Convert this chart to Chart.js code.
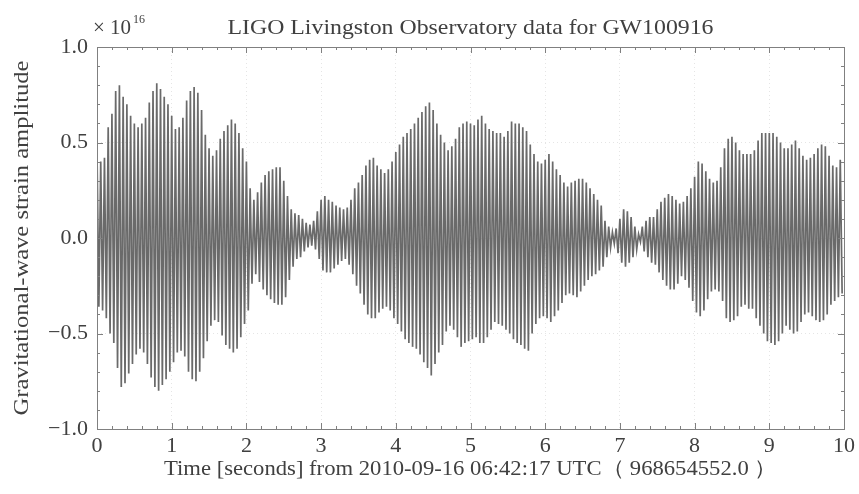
<!DOCTYPE html>
<html>
<head>
<meta charset="utf-8">
<script src="https://cdn.jsdelivr.net/npm/chart.js@4/dist/chart.umd.min.js"></script>
<style>
  html, body { margin: 0; padding: 0; background: #fff; }
  #wrap { width: 859px; height: 494px; }
</style>
</head>
<body>
<div id="wrap"><canvas id="strainChart" width="859" height="494"></canvas></div>
<script>
// peak values (x 1e16), one pair per 0.05 s:
// positive peak at the start of the step, negative peak half a step later
const peakStep = 0.05;
const upperPeaks = [
    0.46, 0.40, 0.42, 0.58, 0.65, 0.77, 0.80, 0.74, 0.70, 0.64, 0.60, 0.58, 0.60, 0.63, 0.71, 0.77, 0.81, 0.78, 0.74, 0.70,
    0.64, 0.57, 0.58, 0.63, 0.72, 0.77, 0.79, 0.76, 0.67, 0.54, 0.47, 0.43, 0.46, 0.52, 0.56, 0.59, 0.62, 0.60, 0.55, 0.47,
    0.40, 0.26, 0.20, 0.24, 0.29, 0.33, 0.35, 0.36, 0.37, 0.37, 0.30, 0.22, 0.15, 0.13, 0.12, 0.10, 0.08, 0.07, 0.09, 0.14,
    0.20, 0.22, 0.20, 0.19, 0.17, 0.16, 0.15, 0.16, 0.20, 0.26, 0.29, 0.33, 0.38, 0.41, 0.42, 0.38, 0.36, 0.34, 0.36, 0.40,
    0.45, 0.49, 0.53, 0.55, 0.57, 0.60, 0.63, 0.66, 0.69, 0.71, 0.67, 0.60, 0.54, 0.50, 0.46, 0.48, 0.52, 0.58, 0.60, 0.61,
    0.60, 0.59, 0.62, 0.64, 0.60, 0.57, 0.56, 0.55, 0.55, 0.53, 0.56, 0.61, 0.60, 0.60, 0.58, 0.56, 0.49, 0.44, 0.40, 0.39,
    0.41, 0.44, 0.40, 0.36, 0.33, 0.29, 0.27, 0.29, 0.30, 0.31, 0.31, 0.29, 0.26, 0.23, 0.20, 0.17, 0.09, 0.06, 0.03, 0.05,
    0.10, 0.15, 0.14, 0.11, 0.06, 0.02, 0.06, 0.09, 0.11, 0.11, 0.15, 0.19, 0.21, 0.23, 0.22, 0.20, 0.18, 0.19, 0.22, 0.26,
    0.32, 0.40, 0.39, 0.35, 0.31, 0.29, 0.30, 0.37, 0.47, 0.52, 0.53, 0.50, 0.46, 0.44, 0.44, 0.44, 0.46, 0.51, 0.55, 0.55,
    0.55, 0.55, 0.53, 0.50, 0.47, 0.47, 0.49, 0.51, 0.47, 0.43, 0.41, 0.42, 0.44, 0.47, 0.49, 0.48, 0.43, 0.38, 0.37, 0.41
];
const lowerPeaks = [
    -0.36, -0.38, -0.42, -0.50, -0.55, -0.68, -0.78, -0.76, -0.71, -0.66, -0.61, -0.58, -0.60, -0.66, -0.73, -0.78, -0.80, -0.77, -0.74, -0.70,
    -0.65, -0.60, -0.59, -0.62, -0.70, -0.74, -0.75, -0.70, -0.63, -0.54, -0.46, -0.43, -0.44, -0.51, -0.56, -0.58, -0.60, -0.58, -0.52, -0.45,
    -0.38, -0.24, -0.19, -0.23, -0.27, -0.30, -0.32, -0.34, -0.35, -0.35, -0.31, -0.22, -0.15, -0.11, -0.10, -0.07, -0.05, -0.04, -0.06, -0.11,
    -0.17, -0.18, -0.18, -0.16, -0.14, -0.12, -0.11, -0.14, -0.19, -0.25, -0.29, -0.35, -0.40, -0.42, -0.42, -0.39, -0.37, -0.36, -0.38, -0.42,
    -0.45, -0.49, -0.53, -0.55, -0.57, -0.58, -0.61, -0.65, -0.68, -0.72, -0.66, -0.60, -0.56, -0.49, -0.46, -0.48, -0.52, -0.57, -0.55, -0.54,
    -0.53, -0.52, -0.55, -0.55, -0.52, -0.48, -0.44, -0.45, -0.46, -0.48, -0.50, -0.53, -0.55, -0.56, -0.58, -0.59, -0.50, -0.45, -0.42, -0.41,
    -0.42, -0.44, -0.41, -0.38, -0.34, -0.30, -0.29, -0.30, -0.31, -0.28, -0.25, -0.22, -0.20, -0.19, -0.17, -0.15, -0.10, -0.05, -0.03, -0.08,
    -0.13, -0.15, -0.13, -0.10, -0.06, -0.02, -0.07, -0.10, -0.13, -0.14, -0.18, -0.22, -0.25, -0.27, -0.27, -0.24, -0.20, -0.22, -0.26, -0.33,
    -0.39, -0.41, -0.38, -0.32, -0.28, -0.27, -0.28, -0.33, -0.42, -0.44, -0.43, -0.41, -0.36, -0.35, -0.37, -0.37, -0.42, -0.46, -0.50, -0.54,
    -0.55, -0.56, -0.54, -0.50, -0.46, -0.48, -0.50, -0.49, -0.44, -0.40, -0.39, -0.41, -0.43, -0.44, -0.43, -0.40, -0.35, -0.33, -0.31, -0.29
];

const xRange = [0, 10];
const yRange = [-1, 1];
const chartTitle = "LIGO Livingston Observatory data for GW100916";
const xTitle = "Time [seconds] from 2010-09-16 06:42:17 UTC\uFF08 968654552.0 \uFF09";
const yTitle = "Gravitational-wave strain amplitude";

// interleave the two peak lists into one trace
let trace = [];
upperPeaks.forEach((u, i) => {
    trace.push({ x: i * peakStep, y: u });
    trace.push({ x: i * peakStep + peakStep / 2, y: lowerPeaks[i] });
});

const serif = "'Liberation Serif', 'DejaVu Serif', serif";
const textColor = "#404040";
const frameColor = "#808080";

// the scan is a bit wider than the font, so stretch text to its width
function stretchedText(ctx, text, cx, cy, width) {
    const w = ctx.measureText(text).width;
    ctx.save();
    ctx.translate(cx, cy);
    ctx.scale(width / w, 1);
    ctx.fillText(text, 0, 0);
    ctx.restore();
}

// box, inward ticks and the free text (title, axis titles, exponent)
const framePlugin = {
    id: "frame",
    afterDraw(chart) {
        const ctx = chart.ctx;
        const a = chart.chartArea;
        const xs = chart.scales.x, ys = chart.scales.y;
        ctx.save();
        ctx.strokeStyle = frameColor;
        ctx.lineWidth = 1;
        ctx.strokeRect(a.left + 0.5, a.top + 0.5, a.right - a.left, a.bottom - a.top);

        ctx.beginPath();
        for (let k = 0; k <= 50; k++) {
            const px = Math.round(xs.getPixelForValue(k * 0.2)) + 0.5;
            const len = k % 5 === 0 ? 6 : 3;
            ctx.moveTo(px, a.bottom); ctx.lineTo(px, a.bottom - len);
            ctx.moveTo(px, a.top); ctx.lineTo(px, a.top + len);
        }
        for (let k = -10; k <= 10; k++) {
            const py = Math.round(ys.getPixelForValue(k * 0.1)) + 0.5;
            const len = k % 5 === 0 ? 6 : 3;
            ctx.moveTo(a.left, py); ctx.lineTo(a.left + len, py);
            ctx.moveTo(a.right, py); ctx.lineTo(a.right - len, py);
        }
        ctx.stroke();

        ctx.fillStyle = textColor;
        ctx.textBaseline = "middle";
        ctx.textAlign = "center";
        const midX = (a.left + a.right) / 2;
        ctx.font = "21px " + serif;
        stretchedText(ctx, chartTitle, midX, 28, 486);
        ctx.font = "21px " + serif;
        stretchedText(ctx, xTitle, midX, 469, 613);

        ctx.save();
        ctx.translate(22, (a.top + a.bottom) / 2);
        ctx.rotate(-Math.PI / 2);
        stretchedText(ctx, yTitle, 0, 0, 355);
        ctx.restore();

        ctx.textAlign = "left";
        ctx.font = "21px " + serif;
        ctx.fillText("\u00D7", 93, 28);
        ctx.fillText("10", 110, 28);
        ctx.font = "12px " + serif;
        ctx.fillText("16", 133, 20);
        ctx.restore();
    }
};

const ctx = document.getElementById("strainChart").getContext("2d");
new Chart(ctx, {
    type: "line",
    data: {
        datasets: [{
            data: trace,
            borderColor: "#6a6a6a",
            borderWidth: 1.7,
            pointRadius: 0,
            tension: 0,
            fill: false
        }]
    },
    options: {
        responsive: false,
        animation: false,
        devicePixelRatio: 1,
        layout: { padding: { left: 0, right: 12, top: 47, bottom: 0 } },
        plugins: {
            legend: { display: false },
            title: { display: false },
            tooltip: { enabled: false }
        },
        scales: {
            x: {
                type: "linear",
                min: xRange[0],
                max: xRange[1],
                afterFit: s => { s.height = 65; },
                border: { display: false, dash: [1, 3] },
                grid: { color: "rgba(0,0,0,0.10)", drawTicks: false },
                ticks: {
                    stepSize: 1,
                    padding: 4,
                    color: textColor,
                    font: { family: serif, size: 22 }
                }
            },
            y: {
                min: yRange[0],
                max: yRange[1],
                afterFit: s => { s.width = 97; },
                border: { display: false, dash: [1, 3] },
                grid: { color: "rgba(0,0,0,0.10)", drawTicks: false },
                ticks: {
                    stepSize: 0.5,
                    padding: 9,
                    color: textColor,
                    font: { family: serif, size: 22 },
                    callback: v => (v < 0 ? "\u2212" : "") + Math.abs(v).toFixed(1)
                }
            }
        }
    },
    plugins: [framePlugin]
});
</script>
</body>
</html>
